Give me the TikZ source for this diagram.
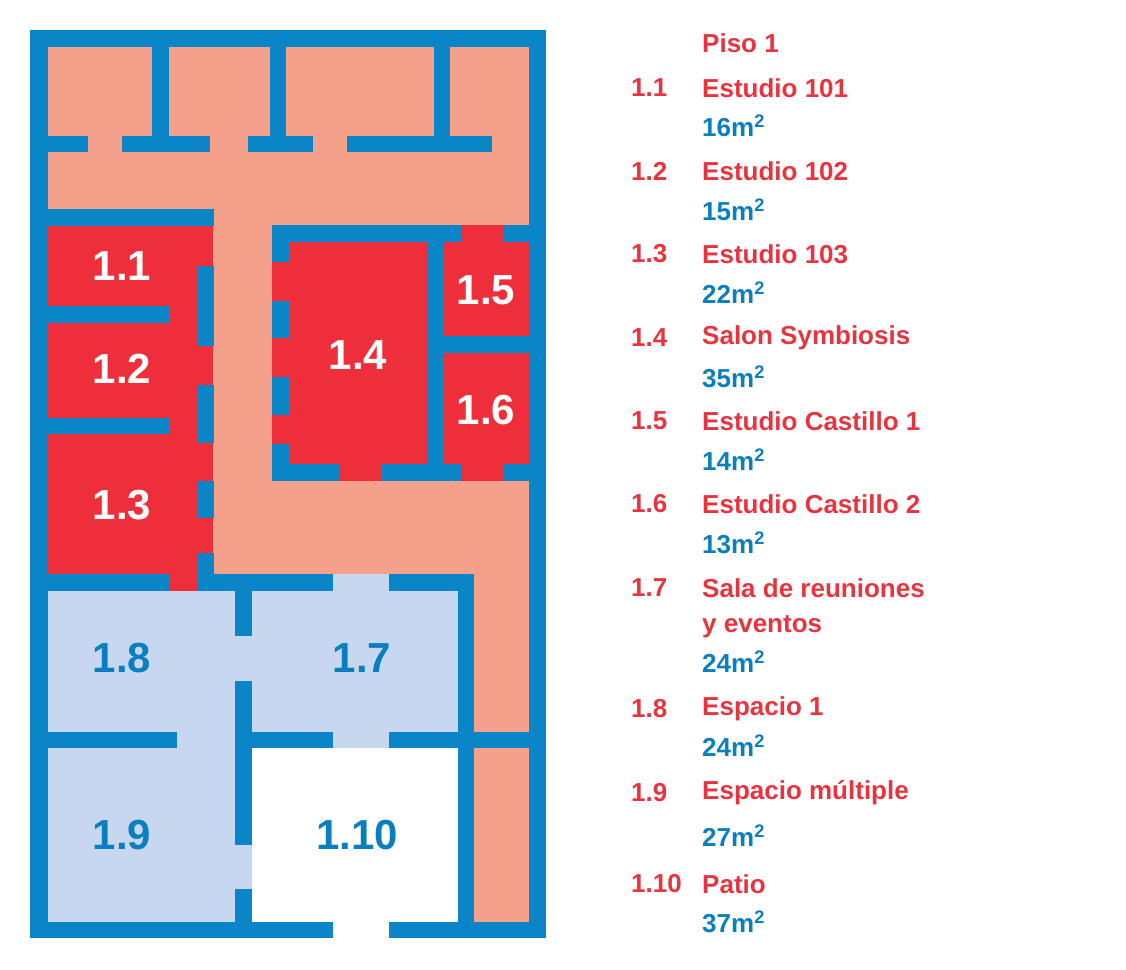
\documentclass[tikz,border=0pt]{standalone}
\usepackage{fontspec}
\setmainfont{Liberation Sans}
\definecolor{wall}{HTML}{0A85C8}
\definecolor{salm}{HTML}{F4A08A}
\definecolor{rred}{HTML}{EE2F3B}
\definecolor{lblue}{HTML}{C7D7EF}
\definecolor{tred}{HTML}{E8343F}
\definecolor{tblue}{HTML}{0A7FC0}
\begin{document}
\begin{tikzpicture}[x=1pt,y=-1pt,
  W/.style={fill=wall},
  lab/.style={font=\fontsize{42}{42}\selectfont\bfseries},
  leg/.style={anchor=west,font=\fontsize{26}{28}\selectfont\bfseries,inner sep=0pt}]
\useasboundingbox (0,0) rectangle (1126,969);
% base fills
\fill[salm] (48,47) rectangle (529,922);
\fill[rred] (48,226) rectangle (213,574);
\fill[rred] (170,574) rectangle (197,591);
\fill[rred] (272,225) rectangle (529,481);
\fill[lblue] (48,591) rectangle (458,922);
\fill[lblue] (333,574) rectangle (389,591);
\fill[white] (252,748) rectangle (458,922);
\fill[white] (333,922) rectangle (389,938);
% outer walls
\fill[W] (30,30) rectangle (546,47);
\fill[W] (30,30) rectangle (48,938);
\fill[W] (529,30) rectangle (546,938);
\fill[W] (30,922) rectangle (333,938);
\fill[W] (389,922) rectangle (546,938);
% top strip
\fill[W] (152,47) rectangle (169,152);
\fill[W] (270,47) rectangle (286,152);
\fill[W] (434,47) rectangle (450,152);
\fill[W] (48,136) rectangle (88,152);
\fill[W] (122,136) rectangle (210,152);
\fill[W] (248,136) rectangle (313,152);
\fill[W] (347,136) rectangle (492,152);
% left rooms
\fill[W] (48,209) rectangle (214,226);
\fill[W] (48,306) rectangle (170,323);
\fill[W] (48,418) rectangle (170,434);
\fill[W] (197,266) rectangle (214,346);
\fill[W] (197,385) rectangle (214,443);
\fill[W] (197,481) rectangle (214,518);
\fill[W] (197,553) rectangle (214,591);
% block 1.4-1.6
\fill[W] (272,225) rectangle (462,242);
\fill[W] (503,225) rectangle (529,242);
\fill[W] (272,225) rectangle (289,262);
\fill[W] (272,301) rectangle (289,338);
\fill[W] (272,377) rectangle (289,415);
\fill[W] (272,444) rectangle (289,481);
\fill[W] (272,464) rectangle (340,481);
\fill[W] (382,464) rectangle (462,481);
\fill[W] (503,464) rectangle (529,481);
\fill[W] (427,225) rectangle (443,481);
\fill[W] (443,336) rectangle (529,353);
% lower
\fill[W] (48,574) rectangle (170,591);
\fill[W] (197,574) rectangle (333,591);
\fill[W] (389,574) rectangle (474,591);
\fill[W] (458,574) rectangle (474,922);
\fill[W] (235,591) rectangle (252,636);
\fill[W] (235,681) rectangle (252,845);
\fill[W] (235,889) rectangle (252,922);
\fill[W] (48,732) rectangle (177,748);
\fill[W] (252,732) rectangle (333,748);
\fill[W] (389,732) rectangle (529,748);
% room labels
\node[lab,white] (r11) at (122,266) {1.1};
\node[lab,white] (r12) at (122,369) {1.2};
\node[lab,white] (r13) at (122,505) {1.3};
\node[lab,white] (r14) at (358,355) {1.4};
\node[lab,white] (r15) at (486,290) {1.5};
\node[lab,white] (r16) at (486,410) {1.6};
\node[lab,tblue] (r17) at (362,658) {1.7};
\node[lab,tblue] (r18) at (122,658) {1.8};
\node[lab,tblue] (r19) at (122,835) {1.9};
\node[lab,tblue] (r110) at (357,835) {1.10};
% legend
\node[leg,tred] (p) at (702,43) {Piso 1};
\foreach \n/\y/\t in {1.1/88/Estudio 101,1.2/171/Estudio 102,1.3/254/Estudio 103,1.4/338/Salon Symbiosis,1.5/421/Estudio Castillo 1,1.6/504/Estudio Castillo 2,1.7/588/Sala de reuniones,1.8/709/Espacio 1,1.9/793/Espacio múltiple,1.10/884/Patio}{
  \node[leg,tred] (n\n) at (631,\y) {\n};
  \node[leg,tred] (t\n) at (702,\y) {\t};}
\node[leg,tred] (ye) at (702,627) {y eventos};
\foreach \y/\t [count=\i] in {126/16m\textsuperscript{2} / aforo 6,210/15m\textsuperscript{2} / aforo 6,293/22m\textsuperscript{2} / aforo 8,377/35m\textsuperscript{2} / aforo 13,460/14m\textsuperscript{2} / aforo 6,543/13m\textsuperscript{2} / aforo 6,662/24m\textsuperscript{2},746/24m\textsuperscript{2},836/27m\textsuperscript{2},922/37m\textsuperscript{2}}{
  \node[leg,tblue] (a\i) at (702,\y) {\t};}
\end{tikzpicture}
\end{document}
